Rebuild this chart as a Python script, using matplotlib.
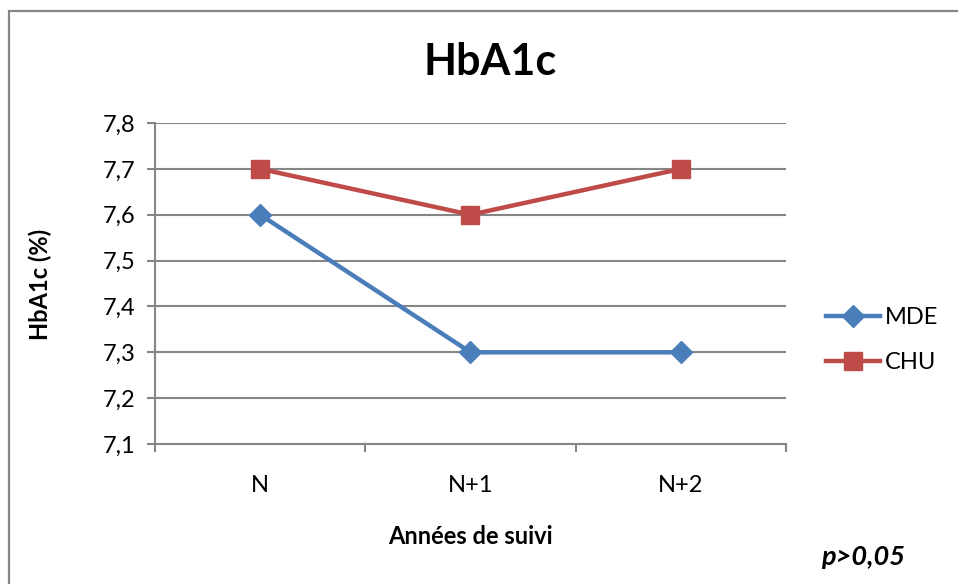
import numpy as np
import matplotlib.pyplot as plt
from matplotlib.patches import Rectangle

# dane
annees = ["N", "N+1", "N+2"]
mde = [7.6, 7.3, 7.3]
chu = [7.7, 7.6, 7.7]
graduations = [7.1, 7.2, 7.3, 7.4, 7.5, 7.6, 7.7, 7.8]

plt.rcParams['font.family'] = ['Lato', 'DejaVu Sans']

bleu = "#4A7EBB"
rouge = "#BE4B48"
gris = "#868686"

fig = plt.figure(figsize=(9.58, 5.84), dpi=100)
ax = fig.add_axes([155/958, 1-444/584, (786-155)/958, (444-123)/584])

# cadre du graphique (coupé à droite et en bas)
fig.patches.append(Rectangle((8.5/958, -0.05), 1.1, 1-10.5/584+0.05, transform=fig.transFigure,
                             fill=False, edgecolor=gris, linewidth=1.6))

x = np.arange(len(annees))
ax.plot(x, mde, color=bleu, linewidth=3.2, marker="D", markersize=11, label="MDE", zorder=3)
ax.plot(x, chu, color=rouge, linewidth=3.2, marker="s", markersize=13, label="CHU", zorder=3)

ax.set_xlim(-0.5, 2.5)
ax.set_ylim(7.1, 7.8)
ax.set_yticks(graduations)
ax.set_yticklabels([("%.1f" % g).replace(".", ",") for g in graduations], fontsize=17)
ax.set_xticks(x)
ax.set_xticklabels(annees, fontsize=17)
ax.set_xticks([-0.5, 0.5, 1.5, 2.5], minor=True)
ax.tick_params(axis="x", which="major", length=0, pad=22)
ax.tick_params(axis="x", which="minor", length=6, color=gris, width=1.5)
ax.tick_params(axis="y", length=6, color=gris, width=1.5, pad=8)
ax.grid(axis="y", color=gris, linewidth=1.5)
ax.set_axisbelow(True)
for s in ["top", "right"]:
    ax.spines[s].set_visible(False)
for s in ["left", "bottom"]:
    ax.spines[s].set_color(gris)
    ax.spines[s].set_linewidth(1.5)

fig.text(490/958, 1-62/584, "HbA1c", fontsize=31, fontweight="bold", ha="center", va="center")
fig.text(40/958, 1-284/584, "HbA1c (%)", fontsize=17, fontweight="bold", rotation=90, ha="center", va="center")
fig.text(470/958, 1-537/584, "Années de suivi", fontsize=17, fontweight="bold", ha="center", va="center")
fig.text(863/958, 1-557/584, "p>0,05", fontsize=19.5, fontweight="bold", style="italic", ha="center", va="center")

fig.legend(loc="center left", bbox_to_anchor=(826/958, 1-340/584), frameon=False, fontsize=17,
           handlelength=2.3, handletextpad=0.2, labelspacing=1.0, borderpad=0, borderaxespad=0)

fig.savefig("out.png", dpi=100)
